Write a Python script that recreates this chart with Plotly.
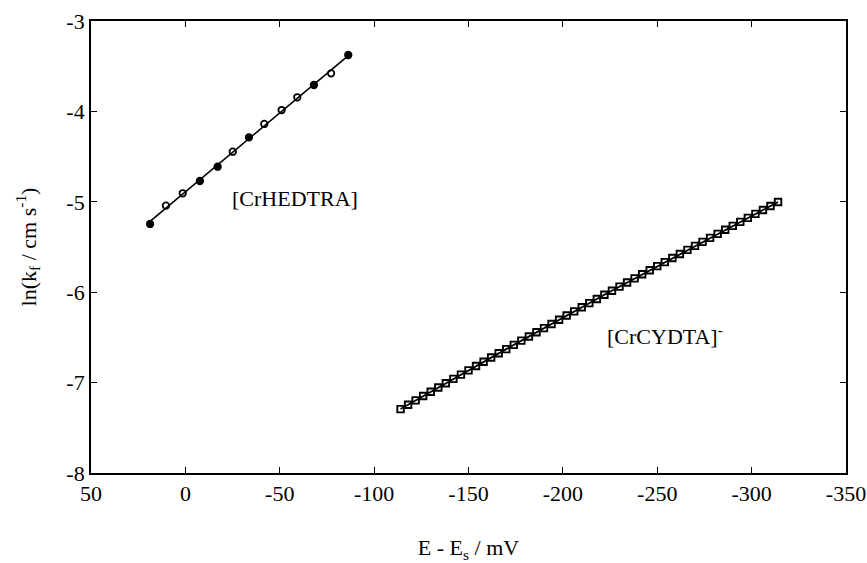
import numpy as np
import plotly.graph_objects as go

# [CrHEDTRA] rate constants
hedtra_E = [18.7, 10.3, 1.4, -7.7, -17.1, -25.1, -33.7, -41.8, -51.0, -59.3, -68.1, -77.2, -86.3]
hedtra_lnk = [-5.245, -5.043, -4.906, -4.770, -4.612, -4.446, -4.287, -4.139, -3.985, -3.844, -3.708, -3.579, -3.376]
hedtra_filled = [True, False, False, True, True, False, True, False, False, False, True, False, True]

# [CrCYDTA]- rate constants
cydta_E = [-114, -118, -122, -126, -130, -134, -138, -142, -146, -150,
           -154, -158, -162, -166, -170, -174, -178, -182, -186, -190,
           -194, -198, -202, -206, -210, -214, -218, -222, -226, -230,
           -234, -238, -242, -246, -250, -254, -258, -262, -266, -270,
           -274, -278, -282, -286, -290, -294, -298, -302, -306, -310, -314]
cydta_lnk = [-7.293, -7.245, -7.197, -7.149, -7.102, -7.054, -7.007, -6.959, -6.912, -6.865,
             -6.817, -6.770, -6.723, -6.676, -6.630, -6.583, -6.536, -6.490, -6.443, -6.397,
             -6.351, -6.304, -6.258, -6.212, -6.166, -6.121, -6.075, -6.029, -5.984, -5.938,
             -5.893, -5.847, -5.802, -5.757, -5.712, -5.667, -5.622, -5.577, -5.532, -5.488,
             -5.443, -5.399, -5.355, -5.310, -5.266, -5.222, -5.178, -5.134, -5.090, -5.047, -5.003]

x_ticks = [50, 0, -50, -100, -150, -200, -250, -300, -350]
y_ticks = [-3, -4, -5, -6, -7, -8]

FONT = "'Liberation Serif', 'Times New Roman', serif"

# linear fit for the HEDTRA series
coef = np.polyfit(hedtra_E, hedtra_lnk, 1)
fit_x = np.array([hedtra_E[0], hedtra_E[-1]])
fit_y = np.polyval(coef, fit_x)

fig = go.Figure()
fig.add_trace(go.Scatter(x=fit_x, y=fit_y, mode="lines",
                         line=dict(color="black", width=1.6), showlegend=False))
fig.add_trace(go.Scatter(
    x=hedtra_E, y=hedtra_lnk, mode="markers",
    marker=dict(symbol=["circle" if f else "circle-open" for f in hedtra_filled],
                size=6.5, color="black", line=dict(color="black", width=1.8)),
    showlegend=False))
fig.add_trace(go.Scatter(
    x=cydta_E, y=cydta_lnk, mode="lines+markers",
    line=dict(color="black", width=1.8),
    marker=dict(symbol="square-open", size=6.5, color="black", line=dict(width=1.9)),
    showlegend=False))

fig.add_annotation(x=-58, y=-4.96, text="[CrHEDTRA]", showarrow=False,
                   font=dict(family=FONT, size=22, color="black"))
fig.add_annotation(x=-254, y=-6.47, text="[CrCYDTA]<sup>-</sup>", showarrow=False,
                   font=dict(family=FONT, size=22, color="black"))

axis_common = dict(showgrid=False, zeroline=False, showline=True, linecolor="black",
                   linewidth=1.8, mirror="ticks", ticks="inside", ticklen=6,
                   tickwidth=1.2, tickcolor="black", automargin=False,
                   tickfont=dict(family=FONT, size=22, color="black"))

fig.update_xaxes(range=[50, -350], tickvals=x_ticks, ticktext=[str(v) for v in x_ticks],
                 title=dict(text="E - E<sub>s</sub> / mV", standoff=37,
                            font=dict(family=FONT, size=22, color="black")),
                 **axis_common)
fig.update_yaxes(range=[-8, -3], tickvals=y_ticks, ticktext=[str(v) for v in y_ticks],
                 title=dict(text="ln(k<sub>f</sub> / cm s<sup>-1</sup>)", standoff=24,
                            font=dict(family=FONT, size=22, color="black")),
                 **axis_common)

fig.update_layout(width=867, height=563, margin=dict(l=91, r=21, t=21, b=90),
                  plot_bgcolor="white", paper_bgcolor="white")

fig.write_html("out.html")
